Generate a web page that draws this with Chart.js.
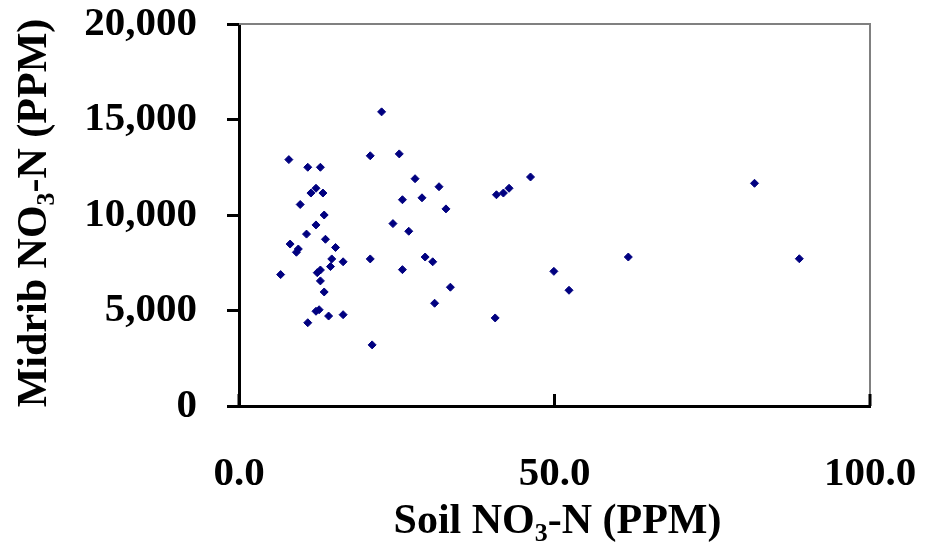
<!DOCTYPE html>
<html>
<head>
<meta charset="utf-8">
<script src="https://cdn.jsdelivr.net/npm/chart.js@4"></script>
<style>
html, body { margin: 0; padding: 0; background: #fff; }
#wrap { width: 925px; height: 548px; position: relative; }
</style>
</head>
<body>
<div id="wrap"><canvas id="nitrateChart"></canvas></div>
<script>
// Soil NO3-N (PPM) vs midrib NO3-N (PPM), one entry per sample
const soilNO3 = [
    22.6, 7.9, 20.8, 25.4, 10.9, 12.9, 27.9, 12.2, 11.4, 13.3,
    25.9, 29.0, 9.7, 13.5, 24.4, 12.2, 26.9, 10.7, 13.7, 8.1,
    15.3, 9.4, 9.1, 14.7, 20.8, 29.5, 16.5, 14.5, 25.9, 12.9,
    12.4, 6.6, 12.9, 13.5, 12.2, 12.7, 14.2, 16.5, 10.9, 21.1,
    31.7, 32.8, 30.7, 33.5, 31.0, 40.6, 40.8, 41.9, 42.8, 46.2,
    49.9, 52.3, 61.7, 81.7, 88.8
];
const midribNO3 = [
    15400, 12900, 13100, 13200, 12500, 12500, 11900, 11400, 11150, 11150,
    10800, 10900, 10550, 10000, 9550, 9480, 9150, 9000, 8730, 8480,
    8300, 8220, 8050, 7700, 7700, 7800, 7550, 7300, 7140, 7120,
    6980, 6880, 6550, 5970, 4960, 5040, 4710, 4780, 4360, 3200,
    11480, 10320, 7550, 6220, 5380, 4610, 11060, 11150, 11400, 11990,
    7050, 6060, 7800, 11660, 7710
];
const xTicks = [0, 50, 100];
const yTicks = [0, 5000, 10000, 15000, 20000];
// title pieces: [text, isSubscript]
const xTitle = [['Soil NO', false], ['3', true], ['-N (PPM)', false]];
const yTitle = [['Midrib NO', false], ['3', true], ['-N (PPM)', false]];

const points = soilNO3.map((x, i) => ({ x: x, y: midribNO3[i] }));
const fontFamily = "'Times New Roman', 'Liberation Serif', serif";

function drawRich(ctx, parts, cx, y, size) {
    const big = 'bold ' + size + 'px ' + fontFamily;
    const small = 'bold ' + Math.round(size * 0.62) + 'px ' + fontFamily;
    let total = 0;
    parts.forEach(p => { ctx.font = p[1] ? small : big; total += ctx.measureText(p[0]).width; });
    let x = cx - total / 2;
    ctx.textAlign = 'left';
    ctx.textBaseline = 'alphabetic';
    parts.forEach(p => {
        ctx.font = p[1] ? small : big;
        ctx.fillText(p[0], x, p[1] ? y + size * 0.2 : y);
        x += ctx.measureText(p[0]).width;
    });
}

const frame = {
    id: 'frame',
    beforeDatasetsDraw(chart) {
        const { ctx, chartArea: a } = chart;
        ctx.save();
        ctx.strokeStyle = '#808080';
        ctx.lineWidth = 2;
        ctx.beginPath();
        ctx.moveTo(a.left, a.top);
        ctx.lineTo(a.right, a.top);
        ctx.lineTo(a.right, a.bottom);
        ctx.stroke();
        // x ticks point inward
        const xs = chart.scales.x;
        ctx.strokeStyle = '#000';
        ctx.lineWidth = 3;
        xTicks.forEach(v => {
            const px = xs.getPixelForValue(v);
            ctx.beginPath();
            ctx.moveTo(px, a.bottom);
            ctx.lineTo(px, a.bottom - 12);
            ctx.stroke();
        });
        ctx.restore();
    },
    afterDraw(chart) {
        const { ctx, chartArea: a } = chart;
        ctx.save();
        ctx.fillStyle = '#000';
        drawRich(ctx, xTitle, (a.left + a.right) / 2 + 3, a.bottom + 127, 42);
        ctx.translate(46, (a.top + a.bottom) / 2 - 2);
        ctx.rotate(-Math.PI / 2);
        drawRich(ctx, yTitle, 0, 0, 42);
        ctx.restore();
    }
};

const ctx = document.getElementById('nitrateChart').getContext('2d');
const nitrateChart = new Chart(ctx, {
    type: 'scatter',
    data: {
        datasets: [{
            data: points,
            pointStyle: 'rectRot',
            pointRadius: 4,
            pointBackgroundColor: '#000080',
            pointBorderColor: '#000080',
            pointBorderWidth: 1,
        }],
    },
    options: {
        responsive: true,
        maintainAspectRatio: false,
        animation: false,
        layout: { padding: { top: 24, right: 55, left: 0, bottom: 0 } },
        plugins: { legend: { display: false }, tooltip: { enabled: false } },
        scales: {
            x: {
                type: 'linear',
                min: 0,
                max: 100,
                afterBuildTicks: s => { s.ticks = xTicks.map(v => ({ value: v })); },
                afterFit: s => { s.height = 142; s.paddingLeft = 0; s.paddingRight = 0; },
                grid: { display: false, drawTicks: false },
                border: { display: true, color: '#000', width: 3 },
                ticks: {
                    color: '#000',
                    padding: 44,
                    maxRotation: 0,
                    font: { family: fontFamily, size: 41, weight: 'bold' },
                    callback: v => Number(v).toFixed(1),
                },
            },
            y: {
                type: 'linear',
                min: 0,
                max: 20000,
                afterBuildTicks: s => { s.ticks = yTicks.map(v => ({ value: v })); },
                afterFit: s => { s.width = 239; s.paddingTop = 0; s.paddingBottom = 0; },
                grid: { display: true, drawOnChartArea: false, drawTicks: true, tickLength: 12, tickColor: '#000', tickWidth: 3 },
                border: { display: true, color: '#000', width: 3 },
                ticks: {
                    color: '#000',
                    padding: 30,
                    font: { family: fontFamily, size: 41, weight: 'bold' },
                    callback: v => Number(v).toLocaleString('en-US'),
                },
            },
        },
    },
    plugins: [frame],
});
</script>
</body>
</html>
